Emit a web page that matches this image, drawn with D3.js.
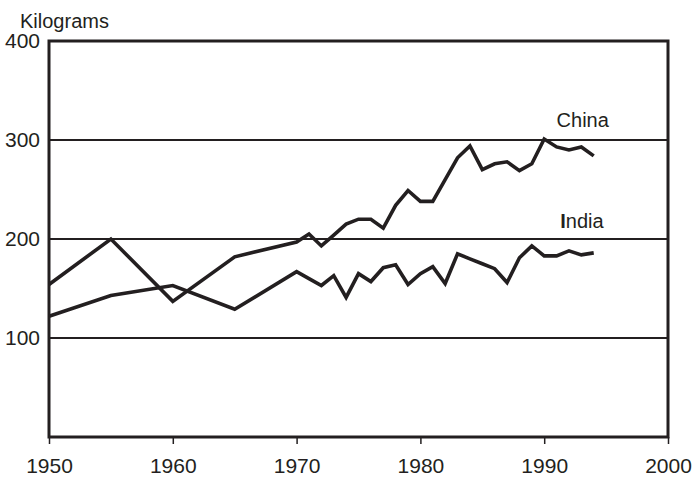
<!DOCTYPE html>
<html>
<head>
<meta charset="utf-8">
<script src="https://cdn.jsdelivr.net/npm/d3@7"></script>
<style>
  html, body { margin: 0; padding: 0; background: #fff; }
  svg { display: block; font-family: "Liberation Sans", Arial, sans-serif; }
</style>
</head>
<body>
<svg id="chart" width="694" height="478"></svg>
<script>
const years = [1950, 1955, 1960, 1965, 1970, 1971, 1972, 1973, 1974, 1975, 1976, 1977, 1978, 1979, 1980, 1981, 1982, 1983, 1984, 1985, 1986, 1987, 1988, 1989, 1990, 1991, 1992, 1993, 1994];
const china = [154, 200, 137, 182, 197, 205, 193, 204, 215, 220, 220, 211, 234, 249, 238, 238, 260, 282, 294, 270, 276, 278, 269, 276, 301, 293, 290, 293, 284];
const india = [122, 143, 153, 129, 167, 160, 153, 163, 141, 165, 157, 171, 174, 154, 165, 172, 155, 185, 180, 175, 170, 156, 181, 193, 183, 183, 188, 184, 186];
const xTicks = [1950, 1960, 1970, 1980, 1990, 2000];
const yTicks = [100, 200, 300, 400];
const gridValues = [100, 200, 300];
const yTitle = "Kilograms";
const seriesLabels = [
  { name: "China", year: 1991.0, value: 313 },
  { name: "India", year: 1991.3, value: 211 }
];

(function () {
const ink = "#231f20";
const svg = d3.select("#chart");
const mL = 49, mR = 668, mT = 41, mB = 437;
const x = d3.scaleLinear().domain([1950, 2000]).range([mL, mR]);
const y = d3.scaleLinear().domain([0, 400]).range([mB, mT]);
const font = "'Liberation Sans', Arial, sans-serif";

// gridlines
svg.append("g").selectAll("line").data(gridValues).join("line")
  .attr("x1", mL).attr("x2", mR)
  .attr("y1", d => y(d)).attr("y2", d => y(d))
  .attr("stroke", ink).attr("stroke-width", 1.8);

// x axis
const xAxis = svg.append("g").attr("transform", `translate(0,${mB})`)
  .call(d3.axisBottom(x).tickValues(xTicks).tickFormat(d3.format("d")).tickSize(7).tickPadding(14));
xAxis.select(".domain").remove();
xAxis.selectAll(".tick line").attr("stroke", ink).attr("stroke-width", 1.5);
xAxis.selectAll("text").attr("fill", ink).style("font-size", "21px").style("font-family", font);

// y axis labels
const yAxis = svg.append("g").attr("transform", `translate(${mL},0)`)
  .call(d3.axisLeft(y).tickValues(yTicks).tickFormat(d3.format("d")).tickSize(0).tickPadding(9));
yAxis.select(".domain").remove();
yAxis.selectAll("text").attr("fill", ink).style("font-size", "21px").style("font-family", font);

// frame
svg.append("rect")
  .attr("x", mL).attr("y", mT)
  .attr("width", mR - mL).attr("height", mB - mT)
  .attr("fill", "none").attr("stroke", ink).attr("stroke-width", 3);

// y title
svg.append("text").attr("x", 20).attr("y", 28)
  .attr("fill", ink).style("font-size", "20px").text(yTitle);

// lines
const line = d3.line().x(d => x(d[0])).y(d => y(d[1]));
[china, india].forEach(vals => {
  svg.append("path")
    .datum(years.map((yr, i) => [yr, vals[i]]))
    .attr("d", line)
    .attr("fill", "none").attr("stroke", ink)
    .attr("stroke-width", 3.6).attr("stroke-linejoin", "miter");
});

// series labels
seriesLabels.forEach(s => {
  const t = svg.append("text").attr("x", x(s.year)).attr("y", y(s.value))
    .attr("fill", ink).style("font-size", "20px");
  if (s.name === "India") {
    t.append("tspan").style("font-weight", "bold").text("I");
    t.append("tspan").text("ndia");
  } else {
    t.text(s.name);
  }
});
})();
</script>
</body>
</html>
